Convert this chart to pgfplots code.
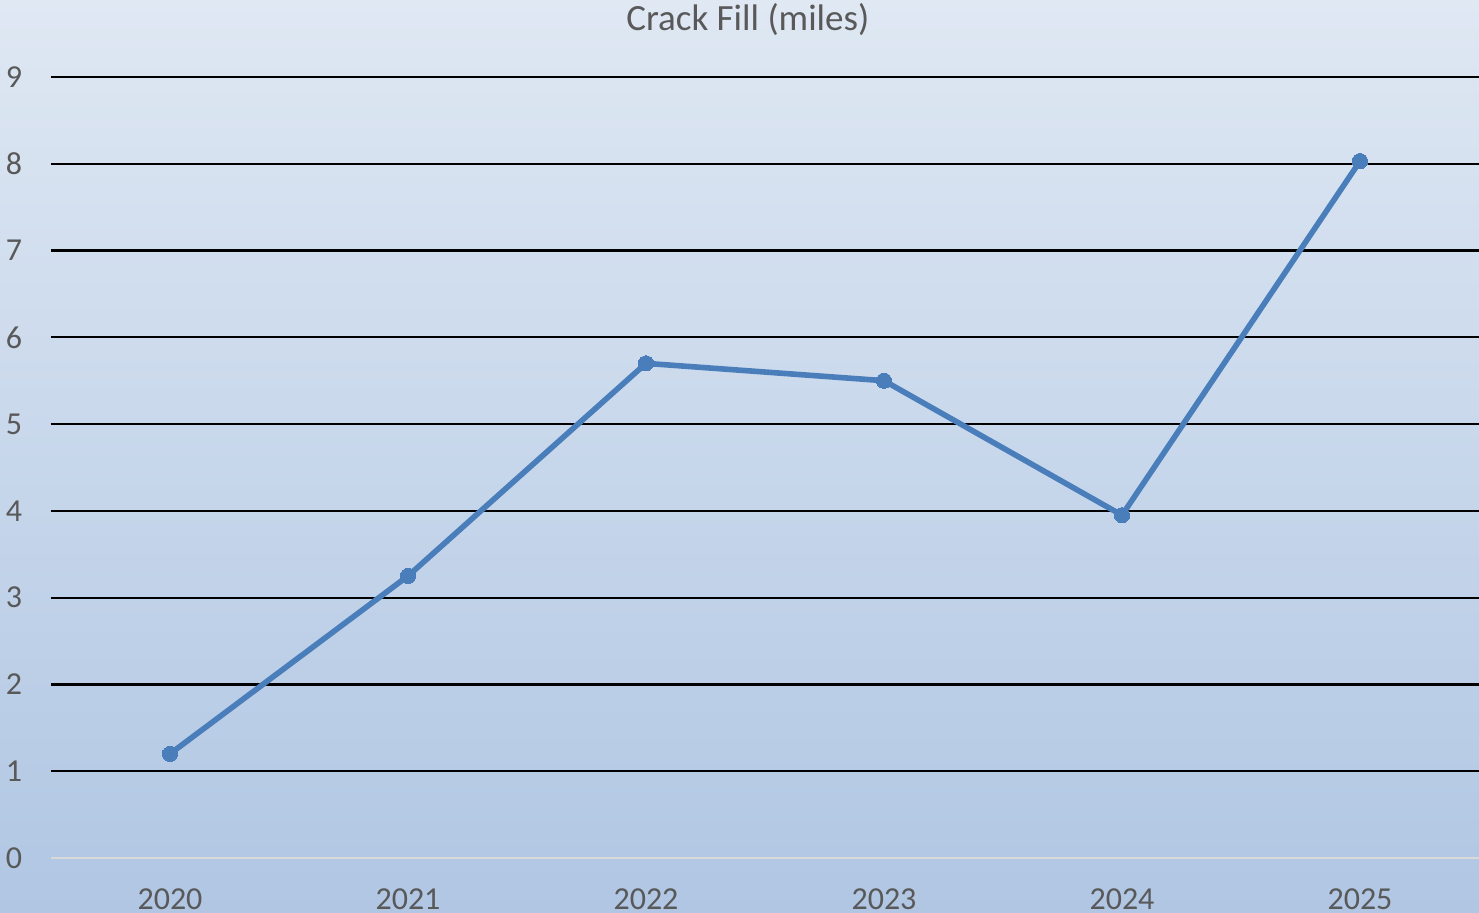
\documentclass[border=0pt]{standalone}
\usepackage{pgfplots}
\pgfplotsset{compat=1.18}
\usepackage{fontspec}
\setmainfont{Carlito}

\definecolor{bgtop}{RGB}{223,232,243}
\definecolor{bgbot}{RGB}{176,198,227}
\definecolor{lineblue}{RGB}{74,126,187}
\definecolor{txtgray}{RGB}{89,89,89}
\definecolor{zeroline}{RGB}{217,217,217}

\begin{document}
\begin{tikzpicture}
  % whole picture is 1479 x 913 px at 0.5pt per px; axis box lower left at (0,0)
  \useasboundingbox (-25.5pt,-27.5pt) rectangle (714pt,429pt);
  \clip (-25.5pt,-27.5pt) rectangle (714pt,429pt);
  \shade[top color=bgtop, bottom color=bgbot] (-25.5pt,-27.5pt) rectangle (714pt,429pt);
  \begin{axis}[
      scale only axis,
      width=714pt, height=390.5pt,
      xmin=-0.5, xmax=5.5, ymin=0, ymax=9,
      axis line style={draw=none},
      major tick length=0pt,
      xtick={0,1,2,3,4,5},
      xticklabels={2020,2021,2022,2023,2024,2025},
      ytick={0,1,...,9},
      ymajorgrids,
      grid style={black, line width=1.1pt},
      /pgf/number format/assume math mode=true,
      tick label style={font=\fontsize{16}{19}\selectfont, text=txtgray, inner sep=0pt},
      yticklabel style={anchor=center, xshift=-18.5pt},
      xticklabel style={anchor=north, yshift=-15pt},
      every axis title shift=0pt,
      title={Crack Fill (miles)},
      title style={at={(0.488,1.059)}, anchor=base, inner sep=0pt,
        font=\fontsize{18.5}{22}\selectfont, text=txtgray},
      clip=false,
    ]
    \draw[zeroline, line width=1.1pt] (axis cs:-0.5,0) -- (axis cs:5.5,0);
    \addplot[lineblue, line width=2.8pt, mark=*, mark size=3.8pt,
      mark options={fill=lineblue, draw=lineblue, line width=0pt}]
      coordinates {
        (0, 1.20)
        (1, 3.25)
        (2, 5.70)
        (3, 5.50)
        (4, 3.95)
        (5, 8.03)
      };
  \end{axis}
\end{tikzpicture}
\end{document}
